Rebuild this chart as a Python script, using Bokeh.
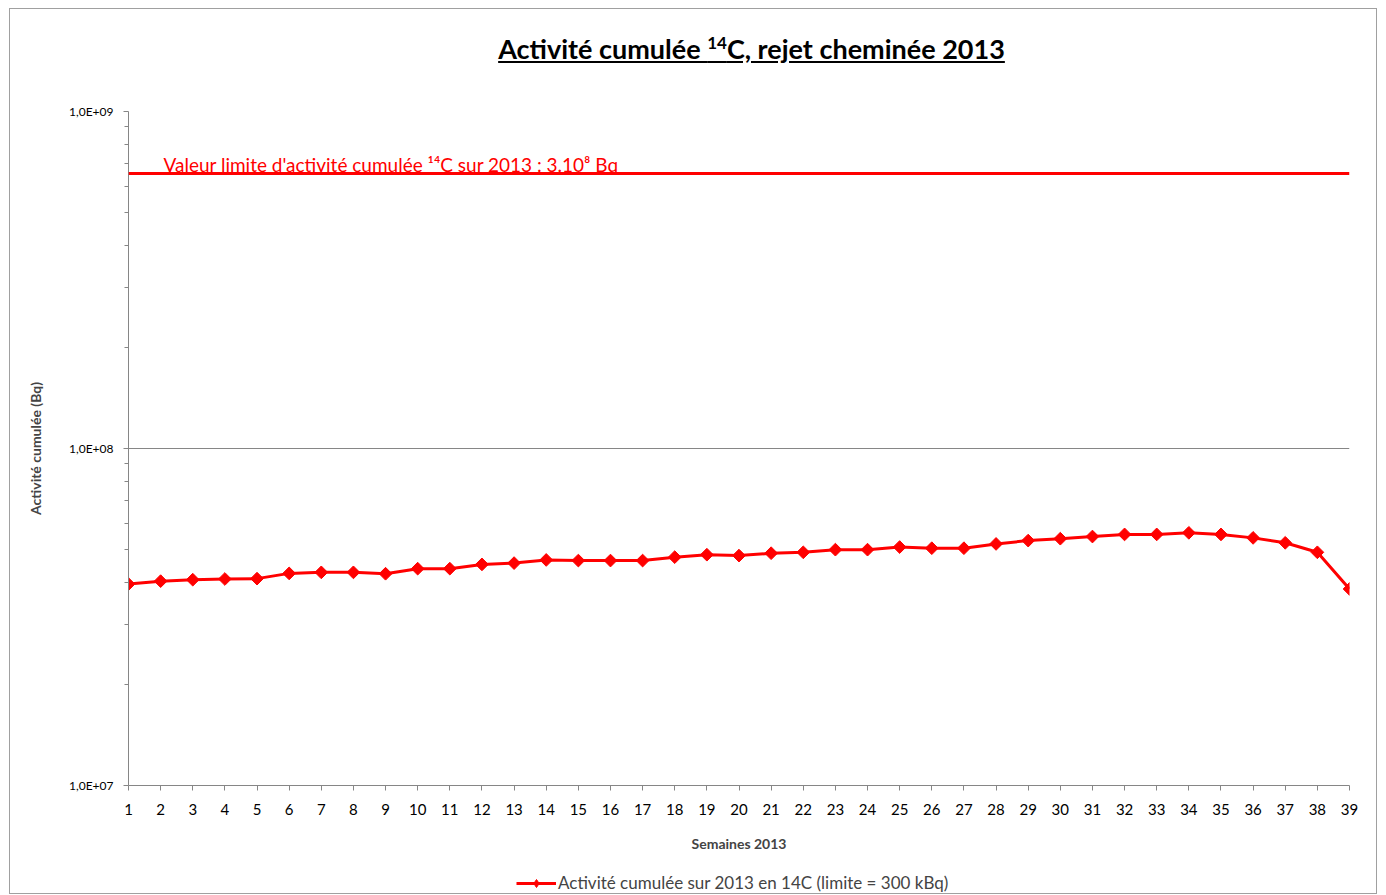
from bokeh.plotting import figure
from bokeh.layouts import column
from bokeh.models import FixedTicker, Label, Span, Legend, LegendItem, Range1d, Div
from bokeh.embed import file_html
from bokeh.resources import INLINE

# ---- data ----
weeks = list(range(1, 40))
cumulative_activity = [3.96e7, 4.04e7, 4.08e7, 4.10e7, 4.11e7, 4.26e7, 4.29e7, 4.29e7, 4.25e7, 4.40e7,
                       4.40e7, 4.53e7, 4.57e7, 4.67e7, 4.65e7, 4.65e7, 4.65e7, 4.76e7, 4.84e7, 4.81e7,
                       4.89e7, 4.92e7, 5.01e7, 5.01e7, 5.10e7, 5.06e7, 5.06e7, 5.21e7, 5.33e7, 5.40e7,
                       5.48e7, 5.56e7, 5.56e7, 5.62e7, 5.56e7, 5.43e7, 5.25e7, 4.92e7, 3.83e7]
limit_value = 6.55e8
y_tick_values = [1e7, 1e8, 1e9]
y_tick_labels = ["1,0E+07", "1,0E+08", "1,0E+09"]
y_minor_ticks = [k * 1e7 for k in range(2, 10)] + [k * 1e8 for k in range(2, 10)]

title_html = "<u>Activité cumulée <sup style='font-size:17px'>14</sup>C, rejet cheminée 2013</u>"
limit_text = "Valeur limite d'activité cumulée ¹⁴C sur 2013 : 3.10⁸ Bq"
series_label = "Activité cumulée sur 2013 en 14C (limite = 300 kBq)"
x_title = "Semaines 2013"
y_title = "Activité cumulée (Bq)"

FONT = "Lato"
RED = "#FF0000"
AX = "#868686"

W = 1366
TITLE_H = 60

title = Div(text=title_html, width=W, height=TITLE_H, margin=0,
            styles={"text-align": "center", "font-family": FONT, "font-weight": "bold",
                    "font-size": "27px", "color": "black", "padding-top": "21px",
                    "padding-left": "117px", "box-sizing": "border-box"})

p = figure(frame_width=1221, frame_height=674, y_axis_type="log",
           x_range=Range1d(1, 39), y_range=Range1d(1e7, 1e9),
           output_backend="svg", toolbar_location=None, margin=0,
           min_border_left=118, min_border_right=27, min_border_top=42, min_border_bottom=72)
p.outline_line_color = None
p.background_fill_color = "white"
p.border_fill_color = "white"

# x axis
p.xaxis.ticker = FixedTicker(ticks=weeks)
p.xaxis.axis_line_color = AX
p.xaxis.major_tick_line_color = AX
p.xaxis.major_tick_out = 5
p.xaxis.major_tick_in = 0
p.xaxis.minor_tick_line_color = None
p.xaxis.major_label_text_font = FONT
p.xaxis.major_label_text_font_size = "15px"
p.xaxis.major_label_text_color = "black"
p.xaxis.major_label_standoff = 13
p.xaxis.axis_label = x_title
p.xaxis.axis_label_text_font = FONT
p.xaxis.axis_label_text_font_style = "bold"
p.xaxis.axis_label_text_font_size = "14px"
p.xaxis.axis_label_standoff = 17
p.xgrid.grid_line_color = None

# y axis
yt = FixedTicker(ticks=y_tick_values, minor_ticks=y_minor_ticks)
p.yaxis.ticker = yt
p.yaxis.major_label_overrides = dict(zip(y_tick_values, y_tick_labels))
p.yaxis.axis_line_color = AX
p.yaxis.major_tick_line_color = AX
p.yaxis.minor_tick_line_color = AX
p.yaxis.major_tick_out = 5
p.yaxis.major_tick_in = 0
p.yaxis.minor_tick_out = 4
p.yaxis.minor_tick_in = 0
p.yaxis.major_label_text_font = FONT
p.yaxis.major_label_text_font_size = "12px"
p.yaxis.major_label_text_color = "black"
p.yaxis.major_label_standoff = 10
p.yaxis.axis_label = y_title
p.yaxis.axis_label_text_font = FONT
p.yaxis.axis_label_text_font_style = "bold"
p.yaxis.axis_label_text_font_size = "14px"
p.yaxis.axis_label_standoff = 22
p.ygrid.ticker = yt
p.ygrid.grid_line_color = AX
p.ygrid.grid_line_width = 1

# limit line
p.add_layout(Span(location=limit_value, dimension="width", line_color=RED, line_width=3))

# series
p.line(weeks, cumulative_activity, line_color=RED, line_width=3)
p.scatter(weeks, cumulative_activity, marker="square", angle=0.785398, size=9,
          fill_color=RED, line_color=RED)

# limit annotation
p.add_layout(Label(x=35, y=621, x_units="screen", y_units="screen", text=limit_text,
                   text_color=RED, text_font=FONT, text_font_size="19px",
                   text_baseline="alphabetic"))

# legend strip: a small figure whose view range excludes the data, holding the key only
lg = figure(width=W, height=36, output_backend="svg", toolbar_location=None,
            x_axis_location=None, y_axis_location=None, margin=0,
            x_range=Range1d(-2, -1), y_range=Range1d(0, 1),
            min_border_left=0, min_border_right=0, min_border_top=0, min_border_bottom=0)
lg.outline_line_color = None
lg.grid.visible = False
key_ln = lg.line(weeks, cumulative_activity, line_color=RED, line_width=3)
key_pt = lg.scatter(weeks, cumulative_activity, marker="diamond", size=13,
                    fill_color=RED, line_color=RED)
legend = Legend(items=[LegendItem(label=series_label, renderers=[key_ln, key_pt])],
                orientation="horizontal", location=(388, 0),
                border_line_color=None, background_fill_alpha=0,
                label_text_font=FONT, label_text_font_size="17px",
                glyph_width=40, glyph_height=20, label_standoff=2, margin=0, padding=0)
lg.add_layout(legend, "center")

layout = column(title, p, lg, spacing=0, margin=(8, 0, 0, 9),
                styles={"border": "1px solid #a0a0a0"})

open("out.html", "w").write(file_html(layout, INLINE))
